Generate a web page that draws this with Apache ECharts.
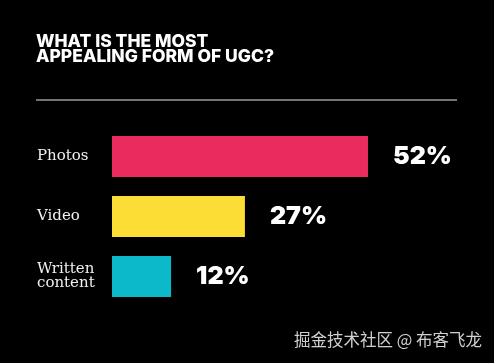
<!DOCTYPE html>
<html><head><meta charset="utf-8">
<script src="https://cdn.jsdelivr.net/npm/echarts@6/dist/echarts.min.js"></script>
<style>html,body{margin:0;padding:0;background:#000;}#c{width:494px;height:363px;}</style>
</head><body><div id="c"></div>
<script>
const categories = ['Photos', 'Video', 'Written\ncontent'];
const values = [52, 27, 12];
const colors = ['#E92B5D', '#FCDD35', '#0BB9CA'];

const chart = echarts.init(document.getElementById('c'));
chart.setOption({
  backgroundColor: '#000',
  animation: false,
  title: {
    text: 'WHAT IS THE MOST\nAPPEALING FORM OF UGC?',
    left: 31, top: 29,
    textStyle: { color: '#fff', fontFamily: 'Inter', fontWeight: 800, fontSize: 17.5, lineHeight: 15 }
  },
  graphic: [
    { type: 'line', shape: { x1: 36, y1: 100, x2: 457, y2: 100 }, style: { stroke: '#9a9a9a', lineWidth: 1.5 } },
    { type: 'text', right: 12, top: 331, style: { text: '掘金技术社区 @ 布客飞龙', fill: '#d0d0d0', font: '16.5px "Noto Sans CJK SC"' } }
  ],
  grid: { left: 112, top: 126.5, height: 180, width: 344.6 },
  xAxis: { type: 'value', min: 0, max: 70, show: false },
  yAxis: {
    type: 'category', data: categories, inverse: true,
    axisLine: { show: false }, axisTick: { show: false },
    axisLabel: { align: 'left', margin: 75, color: '#f0f0f0', fontFamily: 'DejaVu Serif', fontSize: 15, lineHeight: 14 }
  },
  series: [{
    type: 'bar', barWidth: 41,
    data: values.map((v, i) => ({ value: v, itemStyle: { color: colors[i] } })),
    label: {
      show: true, position: 'right', distance: 25,
      formatter: '{c}%', color: '#fff', fontFamily: 'Inter', fontWeight: 900, fontSize: 25
    }
  }]
});
</script></body></html>
